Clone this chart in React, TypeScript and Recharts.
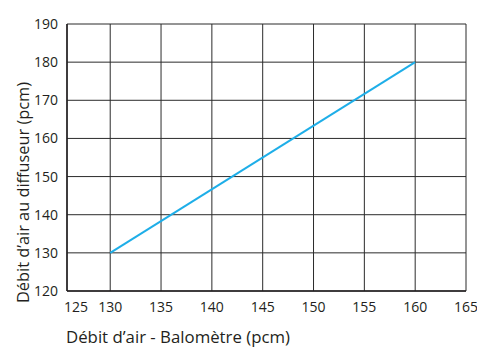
import { CartesianGrid, Label, Line, LineChart, XAxis, YAxis } from 'recharts'

// Measured airflow: balometer reading vs. diffuser reading (pcm)
const balometer = [130, 160]
const diffuser = [130, 180]

// Axis ticks; the first x tick sits at the left edge of the frame
const xTicks = [125.75, 130, 135, 140, 145, 150, 155, 160, 165]
const xTickLabels = ['125', '130', '135', '140', '145', '150', '155', '160', '165']
const yTicks = [120, 130, 140, 150, 160, 170, 180, 190]

const data = balometer.map((x, i) => ({ x, y: diffuser[i] }))

const FONT = "'Open Sans', sans-serif"
const INK = '#231f20'

function XTick(props: any) {
  const { x, y, payload, index } = props
  const shift = index === 0 ? 9 : 0
  return (
    <text x={x + shift} y={y + 13} textAnchor="middle" fontSize={14} fill={INK} fontFamily={FONT}>
      {xTickLabels[index] ?? payload.value}
    </text>
  )
}

function YTitle(props: any) {
  const { viewBox } = props
  const cx = viewBox.x + 23
  const cy = viewBox.y + viewBox.height + 12
  return (
    <text
      x={cx}
      y={cy}
      transform={`rotate(-90, ${cx}, ${cy})`}
      textAnchor="start"
      dominantBaseline="central"
      fontSize={15.5}
      textLength={221}
      lengthAdjust="spacingAndGlyphs"
      fill={INK}
      fontFamily={FONT}
    >
      Débit d’air au diffuseur (pcm)
    </text>
  )
}

function XTitle(props: any) {
  const { viewBox } = props
  return (
    <text
      x={viewBox.x - 1}
      y={viewBox.y + 52}
      textAnchor="start"
      fontSize={15.5}
      textLength={224}
      lengthAdjust="spacingAndGlyphs"
      fill={INK}
      fontFamily={FONT}
    >
      Débit d’air - Balomètre (pcm)
    </text>
  )
}

export default function App() {
  return (
    <div style={{ position: 'absolute', left: 0, top: 0, width: 477, height: 347, background: '#fff' }}>
      <LineChart width={477} height={347} data={data} margin={{ top: 24, right: 11, left: 0, bottom: 0 }}>
        <CartesianGrid stroke="#2b2b2b" strokeWidth={1} />
        <XAxis
          dataKey="x"
          type="number"
          domain={[xTicks[0], 165]}
          ticks={xTicks}
          interval={0}
          height={56}
          tick={<XTick />}
          tickLine={false}
          axisLine={{ stroke: INK, strokeWidth: 1.5 }}
        >
          <Label content={<XTitle />} />
        </XAxis>
        <YAxis
          dataKey="y"
          type="number"
          domain={[120, 190]}
          ticks={yTicks}
          interval={0}
          width={67}
          tick={{ fontSize: 14, fill: INK, fontFamily: FONT, dx: -1 }}
          tickLine={false}
          axisLine={{ stroke: INK, strokeWidth: 1.5 }}
        >
          <Label content={<YTitle />} />
        </YAxis>
        <Line
          dataKey="y"
          stroke="#1eaee8"
          strokeWidth={2}
          dot={false}
          isAnimationActive={false}
        />
      </LineChart>
    </div>
  )
}
